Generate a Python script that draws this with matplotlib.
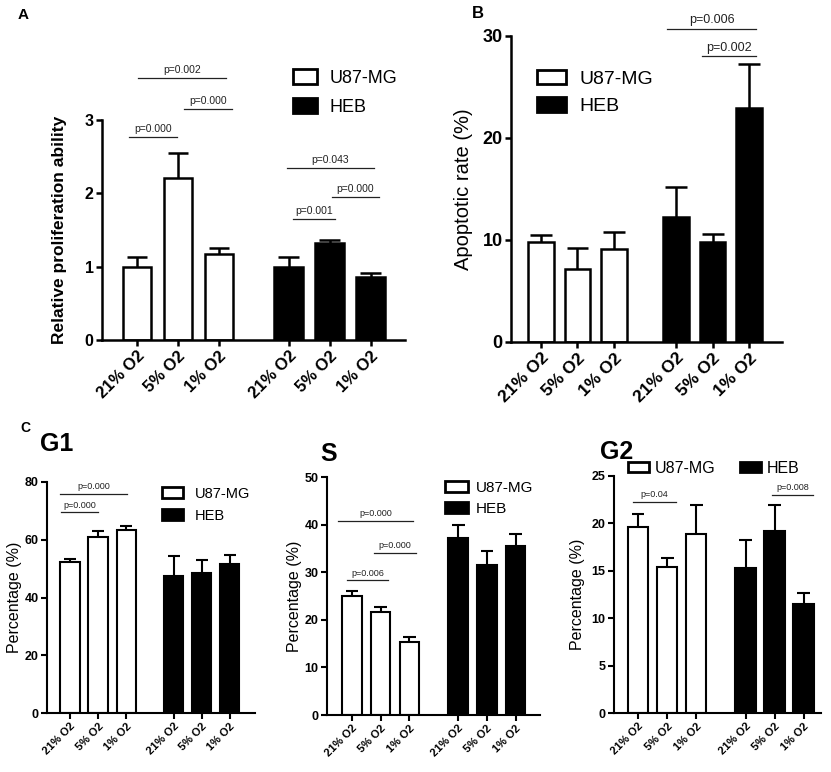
import matplotlib
matplotlib.use("Agg")
import matplotlib.pyplot as plt
from matplotlib.patches import Patch
import numpy as np

plt.rcParams['font.family'] = ['Liberation Sans', 'DejaVu Sans']

conds = ["21% O2", "5% O2", "1% O2", "21% O2", "5% O2", "1% O2"]
groups = ["U87-MG", "HEB"]

# panel A: relative proliferation
prolif_mean = [1.0, 2.21, 1.17, 1.0, 1.32, 0.86]
prolif_err = [0.13, 0.34, 0.08, 0.13, 0.05, 0.06]
# panel B: apoptotic rate
apop_mean = [9.8, 7.2, 9.1, 12.3, 9.8, 22.9]
apop_err = [0.7, 2.0, 1.7, 2.9, 0.8, 4.4]
# panel C: cell cycle
g1_mean = [52.3, 60.9, 63.5, 47.6, 48.5, 51.7]
g1_err = [1.0, 2.3, 1.4, 6.9, 4.4, 3.0]
s_mean = [25.0, 21.7, 15.4, 37.1, 31.5, 35.5]
s_err = [1.0, 0.9, 1.0, 2.8, 3.0, 2.6]
g2_mean = [19.6, 15.4, 18.9, 15.3, 19.2, 11.5]
g2_err = [1.4, 1.0, 3.0, 3.0, 2.7, 1.2]

# significance brackets: (x start, x end, y, text)
sig_A = [(-0.2, 0.98, 2.77, "p=0.000"), (0.02, 2.17, 3.57, "p=0.002"),
         (1.15, 2.32, 3.15, "p=0.000"), (3.66, 5.78, 2.35, "p=0.043"),
         (4.76, 5.9, 1.95, "p=0.000"), (3.8, 4.83, 1.65, "p=0.001")]
sig_B = [(3.45, 5.89, 30.7, "p=0.006"), (4.41, 5.89, 28.0, "p=0.002")]
sig_G1 = [(-0.36, 2.04, 75.9, "p=0.000"), (-0.32, 1.0, 69.5, "p=0.000")]
sig_S = [(-0.49, 2.13, 40.8, "p=0.000"), (0.77, 2.23, 34.1, "p=0.000"),
         (-0.17, 1.25, 28.3, "p=0.006")]
sig_G2 = [(-0.17, 1.31, 22.3, "p=0.04"), (4.62, 6.03, 23.0, "p=0.008")]

W, H = 831, 772
fig = plt.figure(figsize=(W / 100, H / 100), dpi=100)


def rect(l, r, t, b):
    return [l / W, 1 - b / H, (r - l) / W, (b - t) / H]


pos = np.array([0, 1, 2, 3.7, 4.7, 5.7])
colors = ["white"] * 3 + ["black"] * 3


def panel(box, mean, err, ymax, ystep, xlim, ylabel, ylabel_bold, ylabel_fs,
          ylab_x, xfs, yfs, sigs, sig_fs, lw=1.8, width=0.7, capw=0.25):
    ax = fig.add_axes(rect(*box))
    mean = np.array(mean)
    top = mean + np.array(err)
    ax.bar(pos, mean, width=width, color=colors, edgecolor="black", linewidth=lw, zorder=2)
    # one-sided error bars (upper only), GraphPad style
    ax.vlines(pos, mean, top, color="black", lw=lw, zorder=1)
    ax.hlines(top, pos - capw, pos + capw, color="black", lw=lw, zorder=1)
    ax.set_xlim(*xlim)
    ax.set_ylim(0, ymax)
    ax.set_yticks(np.arange(0, ymax + 0.001, ystep))
    ax.set_xticks(pos)
    ax.set_xticklabels(conds, rotation=45, ha="right", rotation_mode="anchor",
                       fontsize=xfs, fontweight="bold")
    for t in ax.get_yticklabels():
        t.set_fontsize(yfs)
        t.set_fontweight("bold")
    ax.spines["top"].set_visible(False)
    ax.spines["right"].set_visible(False)
    ax.spines["left"].set_linewidth(lw)
    ax.spines["bottom"].set_linewidth(lw)
    ax.tick_params(direction="out", length=4, width=lw, pad=2)
    ax.set_ylabel(ylabel, fontsize=ylabel_fs,
                  fontweight="bold" if ylabel_bold else "normal")
    ax.yaxis.set_label_coords(ylab_x, 0.5)
    for x0, x1, y, txt in sigs:
        ax.plot([x0, x1], [y, y], color="#222222", lw=0.9, clip_on=False)
        ax.annotate(txt, ((x0 + x1) / 2, y), xytext=(0, 2), textcoords="offset points",
                    ha="center", va="bottom", fontsize=sig_fs, color="#222222",
                    annotation_clip=False)
    return ax


def add_legend(ax, anchor, fs, hl, hh, tp, ls, ncol=1, cs=1.0):
    handles = [Patch(facecolor="white", edgecolor="black", linewidth=2),
               Patch(facecolor="black", edgecolor="black", linewidth=2)]
    ax.legend(handles, groups, loc="upper left", bbox_to_anchor=anchor, frameon=False,
              fontsize=fs, handlelength=hl, handleheight=hh, handletextpad=tp,
              labelspacing=ls, borderpad=0, borderaxespad=0, ncol=ncol,
              columnspacing=cs)


axA = panel((102, 405, 120, 340), prolif_mean, prolif_err, 3, 1, (-0.85, 6.54),
            "Relative proliferation ability", True, 12.5, -0.115, 12, 11.5, sig_A, 7.5)
add_legend(axA, (0.63, 1.23), 13, 1.35, 0.9, 0.7, 0.6)

axB = panel((511, 782, 36, 342), apop_mean, apop_err, 30, 10, (-0.82, 6.6),
            "Apoptotic rate (%)", False, 14.5, -0.14, 12.5, 13, sig_B, 9, capw=0.3)
add_legend(axB, (0.096, 0.89), 14, 1.5, 0.75, 0.7, 0.5)

axG1 = panel((47, 255, 482, 713), g1_mean, g1_err, 80, 20, (-0.82, 6.6),
             "Percentage (%)", False, 11.5, -0.12, 8, 9, sig_G1, 6.5, lw=1.5,
             width=0.68, capw=0.22)
add_legend(axG1, (0.553, 0.98), 10.5, 1.45, 0.8, 0.8, 0.55)

axS = panel((327, 540, 477, 715), s_mean, s_err, 50, 10, (-0.87, 6.55),
            "Percentage (%)", False, 11.5, -0.117, 8, 9, sig_S, 6.5, lw=1.5,
            width=0.68, capw=0.22)
add_legend(axS, (0.554, 0.985), 11, 1.5, 0.78, 0.5, 0.45)

axG2 = panel((614, 821, 476, 713), g2_mean, g2_err, 25, 5, (-0.83, 6.3),
             "Percentage (%)", False, 11.5, -0.14, 8, 9, sig_G2, 6.5, lw=1.5,
             width=0.7, capw=0.22)
add_legend(axG2, (0.068, 1.065), 11.5, 1.3, 0.65, 0.4, 0.5, ncol=2, cs=1.5)

# panel letters and titles
fig.text(18 / W, 1 - 8 / H, "A", fontsize=11, fontweight="bold", va="top")
fig.text(472 / W, 1 - 6 / H, "B", fontsize=12, fontweight="bold", va="top")
fig.text(20 / W, 1 - 421 / H, "C", fontsize=10, fontweight="bold", va="top")
fig.text(40 / W, 1 - 432 / H, "G1", fontsize=18, fontweight="bold", va="top")
fig.text(320 / W, 1 - 442 / H, "S", fontsize=18, fontweight="bold", va="top")
fig.text(600 / W, 1 - 440 / H, "G2", fontsize=18, fontweight="bold", va="top")

fig.savefig("out.png", dpi=100)
